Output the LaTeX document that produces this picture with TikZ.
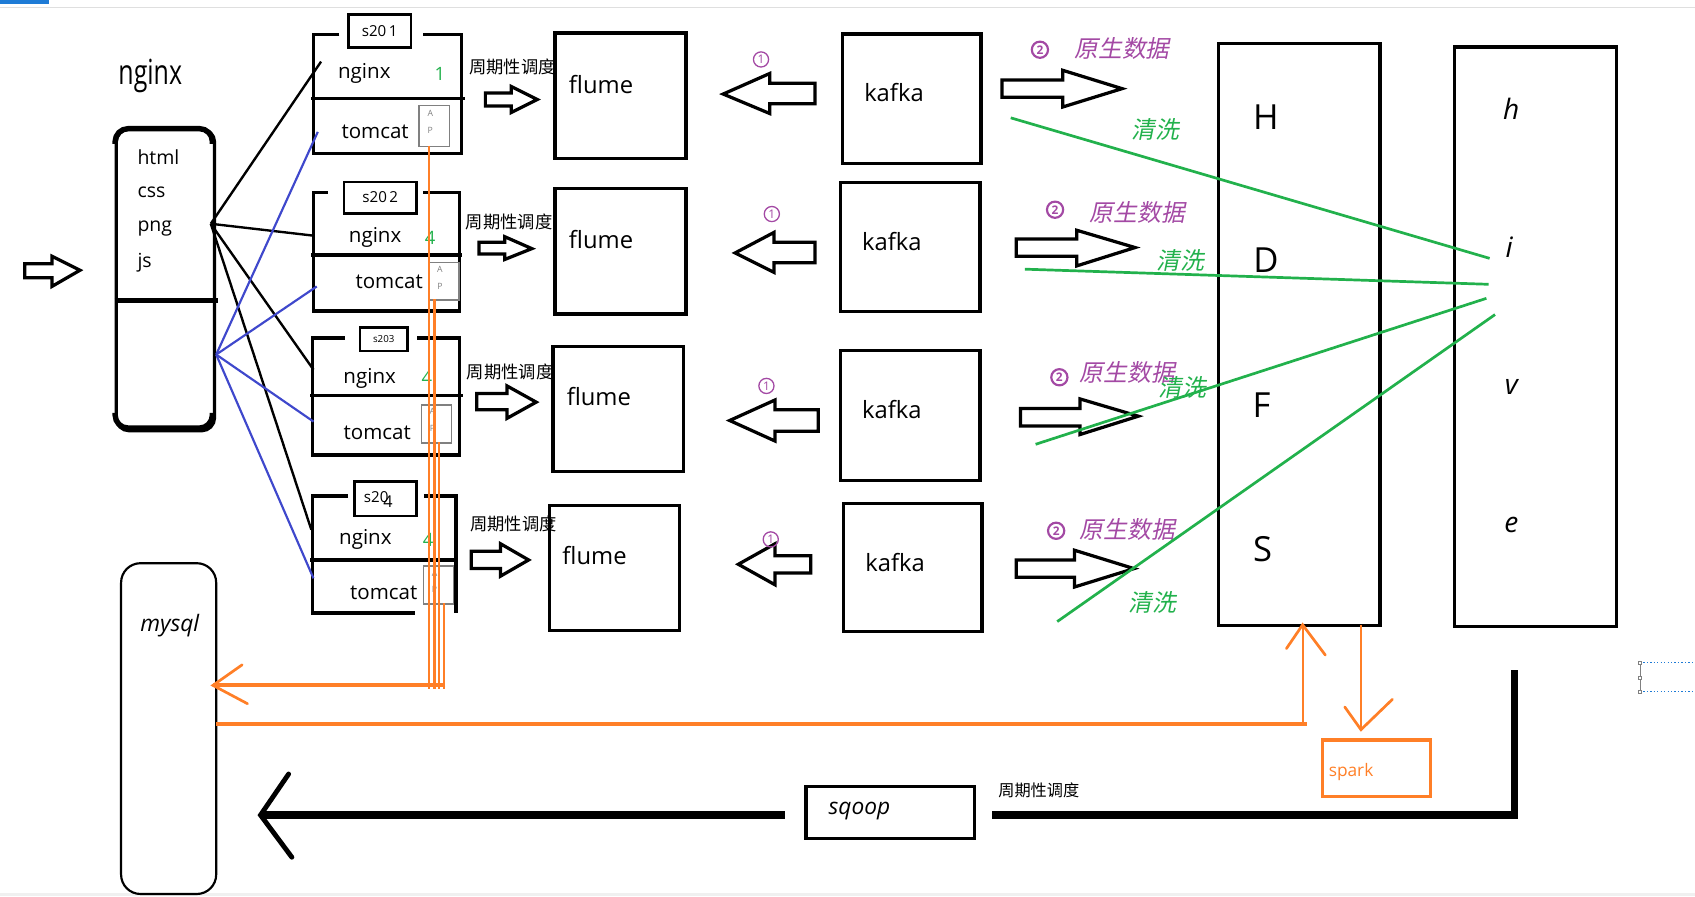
\documentclass[tikz,border=0pt]{standalone}
\usepackage{fontspec}
\setmainfont{Open Sans}
\newfontfamily\cjk{Noto Sans CJK SC}
\newfontfamily\cjki{Noto Sans CJK SC}[FakeSlant=0.2]
\newfontfamily\narrowf{Open Sans}[FakeStretch=0.72]
\definecolor{pgreen}{HTML}{22B14C}
\definecolor{ppurple}{HTML}{A349A4}
\definecolor{porange}{HTML}{FF7F27}
\definecolor{pblue}{HTML}{3F48CC}
\definecolor{chromeblue}{HTML}{1E7BD6}
\newcommand{\fs}[1]{\fontsize{#1}{#1}\selectfont}
\tikzset{
  blk/.style={draw=black, line width=3pt, inner sep=0pt, anchor=north west},
  barrow/.style={draw=black, line width=3pt, line join=miter, fill=white},
  lbl/.style={inner sep=0pt, anchor=center},
  srv/.style={line width=3.5pt, line join=miter},
  appbox/.style={draw=gray, line width=1.3pt, fill=white, inner sep=0pt, anchor=north west},
  appletter/.style={inner sep=0pt, text=gray, font=\fs{8}},
  greenln/.style={draw=pgreen, line width=2.5pt},
  blueln/.style={draw=pblue, line width=2pt},
  blackln/.style={draw=black, line width=2.2pt},
  orln/.style={draw=porange, line width=2.2pt},
  orthick/.style={draw=porange, line width=3.5pt},
  vhead/.style={line width=2.5pt, line cap=round, line join=miter},
  purp/.style={text=ppurple, inner sep=0pt},
  grn/.style={text=pgreen, inner sep=0pt},
  circnum/.style={circle, draw=ppurple, text=ppurple, line width=1.2pt, minimum size=14pt, inner sep=0pt, font=\fs{11}},
  circnumb/.style={circle, draw=ppurple, text=ppurple, line width=2pt, minimum size=15pt, inner sep=0pt, font=\bfseries\fs{11}},
}
\begin{document}
\begin{tikzpicture}[x=1pt,y=-1pt]
\useasboundingbox (0,0) rectangle (1568,829);
% chrome
\fill[chromeblue] (0,0) rectangle (45,4);
\draw[gray!25, line width=1pt] (0,7) -- (1568,7);
\fill[gray!12] (0,826) rectangle (1568,829);

% entry arrow
\draw[barrow] (23,244) -- (48,244) -- (48,237) -- (74,250) -- (48,265) -- (48,257) -- (23,257) -- cycle;

% nginx box
\node[lbl, font=\narrowf\fs{32}] (nginxlbl) at (139,70) {nginx};
\node[draw=black, line width=3pt, rounded corners=12pt, minimum width=91pt, minimum height=279pt, inner sep=0pt, anchor=north west] (ngbox) at (106,118) {};
\draw[line width=5pt, rounded corners=12pt] (106.5,133) -- (106.5,119) -- (196.5,119) -- (196.5,133);
\draw[line width=5pt, rounded corners=12pt] (106.5,382) -- (106.5,396) -- (196.5,396) -- (196.5,382);
\draw[line width=4.5pt] (106,278) -- (202,278);
\node[inner sep=0pt, anchor=west, font=\fs{18}] (thtml) at (127,145) {html};
\node[inner sep=0pt, anchor=west, font=\fs{18}] (tcss) at (127,178) {css};
\node[inner sep=0pt, anchor=west, font=\fs{18}] (tpng) at (127,211) {png};
\node[inner sep=0pt, anchor=west, font=\fs{18}] (tjs) at (127,243) {js};
\coordinate (hubA) at (195,207);
\coordinate (hubB) at (200,328);

% servers
% box 1
\draw[srv] (314,32) -- (290,32) -- (290,142) -- (427,142) -- (427,32) -- (391,32);
\draw[line width=3pt] (288,91) -- (430,91);
\node[draw, line width=2.5pt, minimum width=58pt, minimum height=31pt, inner sep=0pt, anchor=north west, font=\fs{14}] (lab1) at (321,12) {s20\,1};
\node[lbl, font=\fs{19}] (ng1) at (337,68) {nginx};
\node[grn, font=\fs{17}] (n1) at (407,68) {1};
\node[lbl, font=\fs{19}] (tc1) at (347,122) {tomcat};
\node[appbox, minimum width=28pt, minimum height=38pt] (app1) at (387,97) {};
\node[appletter] (a1a) at (398,105) {A};
\node[appletter] (a1b) at (398,121) {P};
\coordinate (ng1w) at (297,57);
\coordinate (tc1w) at (294,122);
% box 2
\draw[srv] (303,178) -- (290,178) -- (290,288) -- (425,288) -- (425,178) -- (391,178);
\draw[line width=3pt] (288,236) -- (427,236);
\node[draw, line width=2.5pt, minimum width=67pt, minimum height=29pt, inner sep=0pt, anchor=north west, font=\fs{14}] (lab2) at (317,167) {s20\,2};
\node[lbl, font=\fs{19}] (ng2) at (347,220) {nginx};
\node[grn, font=\fs{17}] (n2) at (398,220) {4};
\node[lbl, font=\fs{19}] (tc2) at (360,261) {tomcat};
\node[appbox, minimum width=28pt, minimum height=35pt] (app2) at (396,242) {};
\node[appletter] (a2a) at (407,249) {A};
\node[appletter] (a2b) at (407,265) {P};
\coordinate (ng2w) at (290,218);
\coordinate (tc2w) at (293,265);
% box 3
\draw[srv] (319,313) -- (289,313) -- (289,421) -- (425,421) -- (425,313) -- (386,313);
\draw[line width=3pt] (287,366) -- (428,366);
\node[draw, line width=2pt, minimum width=44pt, minimum height=22pt, inner sep=0pt, anchor=north west, font=\fs{9}] (lab3) at (332,302) {s203};
\node[lbl, font=\fs{19}] (ng3) at (342,350) {nginx};
\node[grn, font=\fs{17}] (n3) at (395,350) {4};
\node[lbl, font=\fs{19}] (tc3) at (349,400) {tomcat};
\node[appbox, minimum width=28pt, minimum height=35pt] (app3) at (389,374) {};
\node[appletter] (a3a) at (400,381) {A};
\node[appletter] (a3b) at (400,396) {P};
\coordinate (ng3w) at (290,342);
\coordinate (tc3w) at (290,390);
% box 4
\draw[srv] (322,459) -- (289,459) -- (289,567) -- (384,567);
\draw[srv] (392,459) -- (422,459) -- (422,567);
\draw[line width=3pt] (287,518) -- (424,518);
\node[draw, line width=2.5pt, minimum width=57pt, minimum height=32pt, inner sep=0pt, anchor=north west] (lab4) at (327,444) {};
\node[lbl, font=\fs{14}] (lab4t) at (348,460) {s20};
\node[lbl, font=\fs{15}] (lab4n) at (359,464) {4};
\node[lbl, font=\fs{19}] (ng4) at (338,499) {nginx};
\node[grn, font=\fs{17}] (n4) at (396,499) {4};
\node[lbl, font=\fs{19}] (tc4) at (355,548) {tomcat};
\node[appbox, minimum width=28pt, minimum height=35pt] (app4) at (391,523) {};
\node[appletter] (a4a) at (402,530) {A};
\node[appletter] (a4b) at (402,545) {P};
\coordinate (ng4w) at (288,490);
\coordinate (tc4w) at (290,535);

% connectors from nginx
\draw[blackln] (hubA) -- (ng1w);
\draw[blackln] (hubA) -- (ng2w);
\draw[blackln] (hubA) -- (ng3w);
\draw[blackln] (hubA) -- (ng4w);
\draw[blueln] (hubB) -- (tc1w);
\draw[blueln] (hubB) -- (tc2w);
\draw[blueln] (hubB) -- (tc3w);
\draw[blueln] (hubB) -- (tc4w);

% orange log lines to mysql
\draw[orln] (397,135) -- (397,637);
\draw[orln] (402,277) -- (402,637);
\draw[orln] (406,409) -- (406,637);
\draw[orln] (411,558) -- (411,637);

% mysql
\node[draw=black, line width=2pt, rounded corners=18pt, minimum width=88pt, minimum height=306pt, inner sep=0pt, anchor=north west] (mysql) at (111,520) {};
\node[lbl, font=\itshape\fs{21}] (mysqlt) at (157,579) {mysql};
\coordinate (myin) at (197,634);
\coordinate (myfrom) at (412,634);
\draw[orthick] (myfrom) -- (myin);
\draw[porange, vhead] (224,615) -- (myin) -- (229,651);

% flume boxes
\node[blk, minimum width=121pt, minimum height=116pt] (fl1) at (512,29) {};
\node[blk, minimum width=121pt, minimum height=116pt] (fl2) at (512,173) {};
\node[blk, minimum width=121pt, minimum height=116pt] (fl3) at (510,319) {};
\node[blk, minimum width=120pt, minimum height=116pt] (fl4) at (507,466) {};
\node[lbl, font=\fs{22}] (fl1t) at (556,78) {flume};
\node[lbl, font=\fs{22}] (fl2t) at (556,222) {flume};
\node[lbl, font=\fs{22}] (fl3t) at (554,367) {flume};
\node[lbl, font=\fs{22}] (fl4t) at (550,514) {flume};

% schedule labels
\node[lbl, font=\cjk\fs{16}] (sch1) at (474,62) {周期性调度};
\node[lbl, font=\cjk\fs{16}] (sch2) at (471,205) {周期性调度};
\node[lbl, font=\cjk\fs{16}] (sch3) at (472,344) {周期性调度};
\node[lbl, font=\cjk\fs{16}] (sch4) at (475,485) {周期性调度};

% server -> flume arrows
\draw[barrow] (449,86) -- (473,86) -- (473,80) -- (497,92) -- (473,104) -- (473,98) -- (449,98) -- cycle;
\draw[barrow] (443,224) -- (467,224) -- (467,219) -- (492,230) -- (467,240) -- (467,235) -- (443,235) -- cycle;
\draw[barrow] (441,364) -- (469,364) -- (469,357) -- (496,372) -- (469,387) -- (469,379) -- (441,379) -- cycle;
\draw[barrow] (436,510) -- (463,510) -- (463,503) -- (489,518) -- (463,533) -- (463,526) -- (436,526) -- cycle;

% kafka boxes
\node[blk, minimum width=128pt, minimum height=120pt] (kf1) at (778,30) {};
\node[blk, minimum width=129pt, minimum height=120pt] (kf2) at (776,167) {};
\node[blk, minimum width=129pt, minimum height=120pt] (kf3) at (776,323) {};
\node[blk, minimum width=128pt, minimum height=119pt] (kf4) at (779,464) {};
\node[lbl, font=\fs{22}] (kf1t) at (827,86) {kafka};
\node[lbl, font=\fs{22}] (kf2t) at (825,223) {kafka};
\node[lbl, font=\fs{22}] (kf3t) at (825,379) {kafka};
\node[lbl, font=\fs{22}] (kf4t) at (828,520) {kafka};

% kafka -> flume arrows
\draw[barrow] (669,87) -- (712,68) -- (712,77) -- (754,77) -- (754,96) -- (712,96) -- (712,105) -- cycle;
\draw[barrow] (680,234) -- (716,215) -- (716,224) -- (754,224) -- (754,243) -- (716,243) -- (716,252) -- cycle;
\draw[barrow] (675,389) -- (717,370) -- (717,379) -- (757,379) -- (757,399) -- (717,399) -- (717,408) -- cycle;
\draw[barrow] (683,522) -- (717,503) -- (717,514) -- (750,514) -- (750,530) -- (717,530) -- (717,541) -- cycle;
\node[circnum] (c11) at (704,55) {1};
\node[circnum] (c12) at (714,198) {1};
\node[circnum] (c13) at (709,357) {1};
\node[circnum] (c14) at (713,499) {1};

% kafka -> hdfs arrows
\draw[barrow] (927,74) -- (983,74) -- (983,65) -- (1038,82) -- (983,99) -- (983,90) -- (927,90) -- cycle;
\draw[barrow] (940,221) -- (996,221) -- (996,213) -- (1050,229) -- (996,246) -- (996,237) -- (940,237) -- cycle;
\draw[barrow] (944,378) -- (999,378) -- (999,369) -- (1053,385) -- (999,402) -- (999,394) -- (944,394) -- cycle;
\draw[barrow] (940,518) -- (994,518) -- (994,509) -- (1049,526) -- (994,543) -- (994,534) -- (940,534) -- cycle;
\node[circnumb] (c21) at (962,46) {2};
\node[circnumb] (c22) at (976,194) {2};
\node[circnumb] (c23) at (980,349) {2};
\node[circnumb] (c24) at (977,491) {2};
\node[purp, font=\cjki\fs{22}] (raw1) at (1038,45) {原生数据};
\node[purp, font=\cjki\fs{22}] (raw2) at (1052,197) {原生数据};
\node[purp, font=\cjki\fs{22}] (raw3) at (1043,345) {原生数据};
\node[purp, font=\cjki\fs{22}] (raw4) at (1043,490) {原生数据};

% HDFS and hive
\node[blk, minimum width=149pt, minimum height=538pt] (hdfs) at (1126,39) {};
\node[lbl, font=\fs{32}] (hH) at (1171,108) {H};
\node[lbl, font=\fs{32}] (hD) at (1171,241) {D};
\node[lbl, font=\fs{32}] (hF) at (1167,375) {F};
\node[lbl, font=\fs{32}] (hS) at (1168,508) {S};
\node[blk, minimum width=150pt, minimum height=536pt] (hive) at (1344,42) {};
\node[lbl, font=\itshape\fs{26}] (vh) at (1398,101) {h};
\node[lbl, font=\itshape\fs{26}] (vi) at (1396,229) {i};
\node[lbl, font=\itshape\fs{26}] (vv) at (1398,358) {v};
\node[lbl, font=\itshape\fs{26}] (ve) at (1398,486) {e};

% cleaning lines
\coordinate (g1s) at (935,109);
\coordinate (g1e) at (1378,239);
\coordinate (g2s) at (948,249);
\coordinate (g2e) at (1377,263);
\coordinate (g3s) at (958,411);
\coordinate (g3e) at (1375,276);
\coordinate (g4s) at (978,575);
\coordinate (g4e) at (1383,291);
\draw[greenln] (g1s) -- (g1e);
\draw[greenln] (g2s) -- (g2e);
\draw[greenln] (g3s) -- (g3e);
\draw[greenln] (g4s) -- (g4e);
\node[grn, font=\cjki\fs{22}] (cl1) at (1069,120) {清洗};
\node[grn, font=\cjki\fs{22}] (cl2) at (1092,241) {清洗};
\node[grn, font=\cjki\fs{22}] (cl3) at (1094,358) {清洗};
\node[grn, font=\cjki\fs{22}] (cl4) at (1066,557) {清洗};

% orange: mysql <-> hdfs, spark
\coordinate (hin) at (1205,578);
\coordinate (hcorner) at (1205,670);
\coordinate (mystart) at (200,670);
\draw[orthick] (mystart) -- (1209,670);
\draw[porange, line width=2pt] (hcorner) -- (hin);
\draw[porange, vhead] (1190,600) -- (hin) -- (1226,606);
\node[draw=porange, line width=3pt, minimum width=100pt, minimum height=52pt, inner sep=0pt, anchor=north west] (spark) at (1222,683) {};
\node[inner sep=0pt, anchor=west, text=porange, font=\fs{16}] (sparkt) at (1229,714) {spark};
\coordinate (hout) at (1259,578);
\coordinate (sparkin) at (1259,675);
\draw[porange, line width=2pt] (hout) -- (sparkin);
\draw[porange, vhead] (1244,654) -- (sparkin) -- (1288,647);

% sqoop
\node[draw=black, line width=3pt, minimum width=156pt, minimum height=48pt, inner sep=0pt, anchor=north west] (sqoop) at (744,726) {};
\node[lbl, font=\itshape\fs{21}] (sqoopt) at (795,750) {sqoop};
\node[lbl, font=\cjk\fs{15}] (sch5) at (961,731) {周期性调度};
\coordinate (hivedown) at (1401,620);
\coordinate (sqin) at (918,754);
\coordinate (sqout) at (726,754);
\coordinate (mytip) at (241,754);
\draw[line width=7pt, line join=miter] (hivedown) -- (1401,754) -- (sqin);
\draw[line width=7pt] (sqout) -- (mytip);
\draw[vhead, line width=4.5pt] (267,716) -- (mytip) -- (270,793);

% selection widget
\draw[chromeblue, line width=1.2pt, dotted] (1517,613) -- (1568,613);
\draw[chromeblue, line width=1.2pt, dotted] (1517,640) -- (1568,640);
\draw[gray, line width=0.6pt] (1517,613) -- (1517,640);
\node[draw=gray, fill=white, line width=0.5pt, minimum size=3pt, inner sep=0pt] (hd1) at (1517,613) {};
\node[draw=gray, fill=white, line width=0.5pt, minimum size=3pt, inner sep=0pt] (hd2) at (1517,627) {};
\node[draw=gray, fill=white, line width=0.5pt, minimum size=3pt, inner sep=0pt] (hd3) at (1517,640) {};
\end{tikzpicture}
\end{document}
